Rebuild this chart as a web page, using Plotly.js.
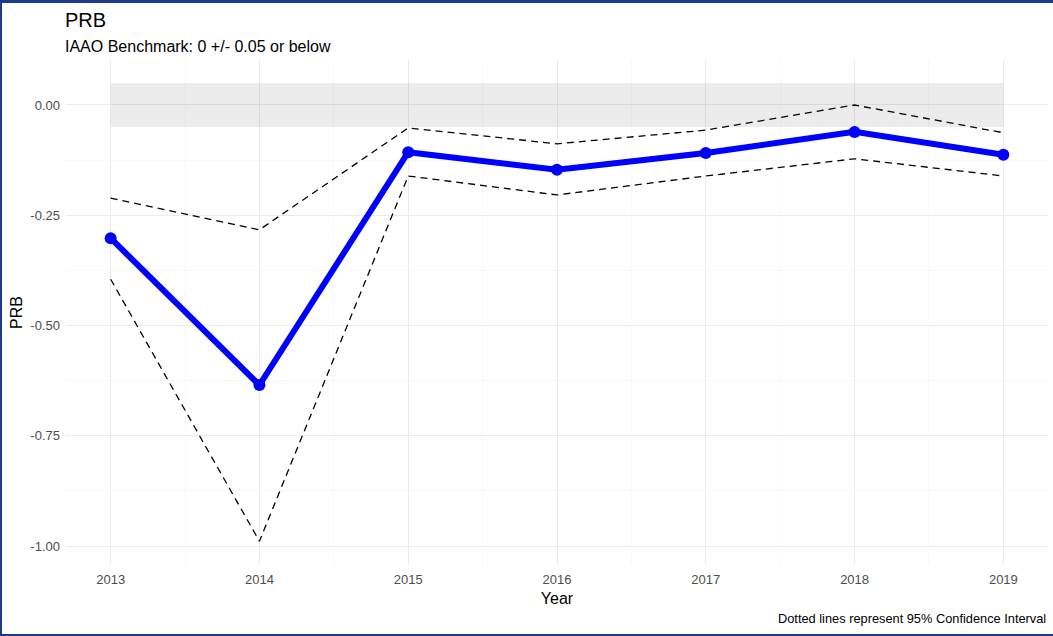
<!DOCTYPE html>
<html>
<head>
<meta charset="utf-8">
<script src="https://cdn.plot.ly/plotly-3.0.1.min.js"></script>
<style>
  html, body { margin: 0; padding: 0; background: #1b3a8c; width: 1053px; height: 636px; overflow: hidden; }
  #chart { position: absolute; left: 2px; top: 3px; width: 1051px; height: 631px; background: #ffffff; }
</style>
</head>
<body>
<div id="chart"></div>
<script>
const years = [2013, 2014, 2015, 2016, 2017, 2018, 2019];
const prb = [-0.302, -0.635, -0.107, -0.147, -0.109, -0.061, -0.113];
const ciUpper = [-0.211, -0.283, -0.052, -0.088, -0.057, 0.0, -0.063];
const ciLower = [-0.395, -0.989, -0.161, -0.204, -0.161, -0.122, -0.161];
const yTickVals = [0, -0.25, -0.5, -0.75, -1.0];
const yTickText = ["0.00", "-0.25", "-0.50", "-0.75", "-1.00"];
const benchmark = 0;
const tolerance = 0.05;

const font = "Liberation Sans, Arial, sans-serif";

const xMinor = years.slice(1).map((y, i) => (y + years[i]) / 2);
const yMinor = yTickVals.slice(1).map((v, i) => (v + yTickVals[i]) / 2);

const traces = [
  {
    x: years, y: ciUpper, mode: "lines", type: "scatter",
    line: { color: "#000000", width: 1.3, dash: "7px,5px" }, hoverinfo: "skip"
  },
  {
    x: years, y: ciLower, mode: "lines", type: "scatter",
    line: { color: "#000000", width: 1.3, dash: "7px,5px" }, hoverinfo: "skip"
  },
  {
    x: years, y: prb, mode: "lines+markers", type: "scatter",
    line: { color: "#0000ff", width: 6 },
    marker: { color: "#0000ff", size: 12 }
  }
];

const layout = {
  width: 1051, height: 631,
  paper_bgcolor: "#ffffff", plot_bgcolor: "#ffffff",
  showlegend: false,
  margin: { l: 64, r: 5, t: 57, b: 69 },
  font: { family: font, color: "#4d4d4d" },
  xaxis: {
    range: [2012.7, 2019.3],
    tickmode: "array", tickvals: years, ticktext: years.map(String),
    showgrid: true, gridcolor: "#ebebeb", gridwidth: 1,
    zeroline: false, showline: false, ticks: "",
    tickfont: { size: 13, color: "#4d4d4d", family: font },
    ticklabelstandoff: 5,
    minor: { tickmode: "array", tickvals: xMinor, showgrid: true, gridcolor: "#f3f3f3", gridwidth: 0.6, ticks: "" },
    title: { text: "Year", font: { size: 16, color: "#000000", family: font }, standoff: 6 }
  },
  yaxis: {
    range: [-1.043, 0.102],
    tickmode: "array", tickvals: yTickVals, ticktext: yTickText,
    showgrid: true, gridcolor: "#ebebeb", gridwidth: 1,
    zeroline: false, showline: false, ticks: "",
    tickfont: { size: 13, color: "#4d4d4d", family: font },
    ticklabelstandoff: 5,
    minor: { tickmode: "array", tickvals: yMinor, showgrid: true, gridcolor: "#f3f3f3", gridwidth: 0.6, ticks: "" },
    title: { text: "PRB", font: { size: 16, color: "#000000", family: font }, standoff: 3 }
  },
  shapes: [
    {
      type: "rect", layer: "between", xref: "x", yref: "y",
      x0: years[0], x1: years[years.length - 1],
      y0: benchmark - tolerance, y1: benchmark + tolerance,
      fillcolor: "rgba(0,0,0,0.075)", line: { width: 0 }
    }
  ],
  annotations: [
    {
      text: "PRB", xref: "paper", yref: "paper", x: 0, y: 1.080, yanchor: "middle", xshift: -3,
      xanchor: "left", showarrow: false, font: { size: 20, color: "#000000", family: font }
    },
    {
      text: "IAAO Benchmark: 0 +/- 0.05 or below", xref: "paper", yref: "paper", x: 0, y: 1.0277, xshift: -3,
      yanchor: "middle", xanchor: "left", showarrow: false, font: { size: 16, color: "#000000", family: font }
    },
    {
      text: "Dotted lines represent 95% Confidence Interval", xref: "paper", yref: "paper",
      x: 1, y: -0.1069, yanchor: "middle", xanchor: "right", showarrow: false,
      font: { size: 12.8, color: "#000000", family: font }
    }
  ]
};

Plotly.newPlot("chart", traces, layout, { displayModeBar: false, staticPlot: true });
</script>
</body>
</html>
